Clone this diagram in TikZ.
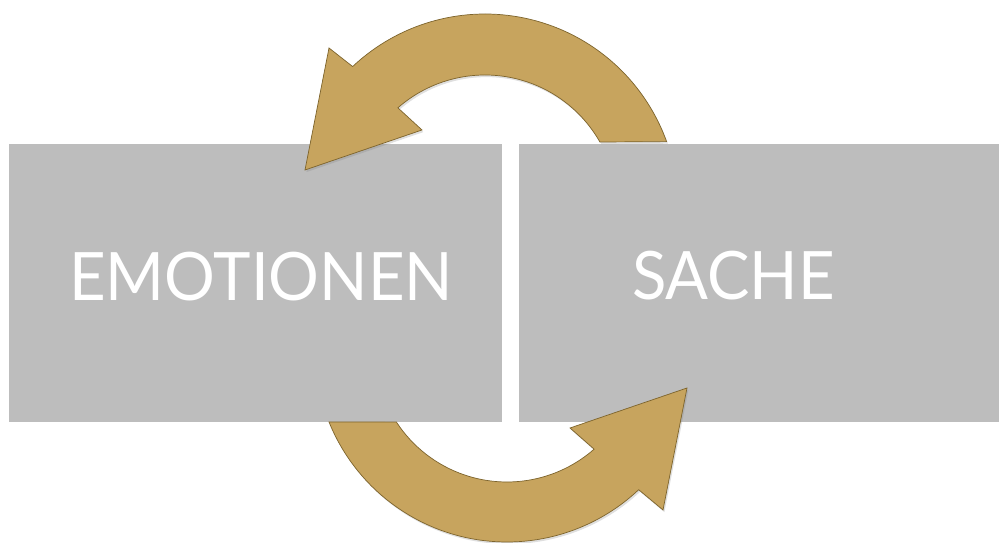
\documentclass[tikz,border=0pt]{standalone}
\usepackage{fontspec}
\setmainfont{Lato}[FakeStretch=0.95]
\usetikzlibrary{calc,shadows}
\definecolor{boxgray}{RGB}{189,189,189}
\definecolor{gold}{RGB}{199,164,94}
\definecolor{golddark}{RGB}{125,100,45}
\tikzset{
  panel/.style={fill=boxgray, draw=none, inner sep=0pt, outer sep=0pt},
  label/.style={text=white, font=\fontsize{47.5}{50}\selectfont, anchor=base, inner sep=0pt},
  goldshape/.style={fill=gold, draw=golddark, line width=0.5pt, line join=miter,
     drop shadow={shadow xshift=1pt, shadow yshift=-1.5pt, opacity=0.25}}
}
\begin{document}
\begin{tikzpicture}[x=0.025cm, y=0.025cm]
\useasboundingbox (0,0) rectangle (1001,543);
% panels
\node[panel, minimum width={493*0.025cm}, minimum height={278*0.025cm}, anchor=south west] (left) at (9,121) {};
\node[panel, minimum width={480*0.025cm}, minimum height={278*0.025cm}, anchor=south west] (right) at (519,121) {};
% texts
\node[label] (emo) at (261,242) {EMOTIONEN};
\node[label] (sache) at (733.5,243) {SACHE};
% top arrow
\coordinate (c1) at (485,336);
\path[goldshape] ($(c1)+(19.8:193)$) arc[start angle=19.8, end angle=133.3, radius=193]
  -- (329,495) -- (305,373) -- (422,413)
  -- ($(c1)+(131.3:132)$) arc[start angle=131.3, end angle=29.5, radius=132] -- cycle;
% bottom arrow
\coordinate (c2) at (507,193);
\path[goldshape] ($(c2)+(202.0:192)$) arc[start angle=202.0, end angle=313.3, radius=192]
  -- (663,33) -- (687,155) -- (570,115)
  -- ($(c2)+(311.3:132)$) arc[start angle=311.3, end angle=213.07, radius=132] -- cycle;
\end{tikzpicture}
\end{document}
